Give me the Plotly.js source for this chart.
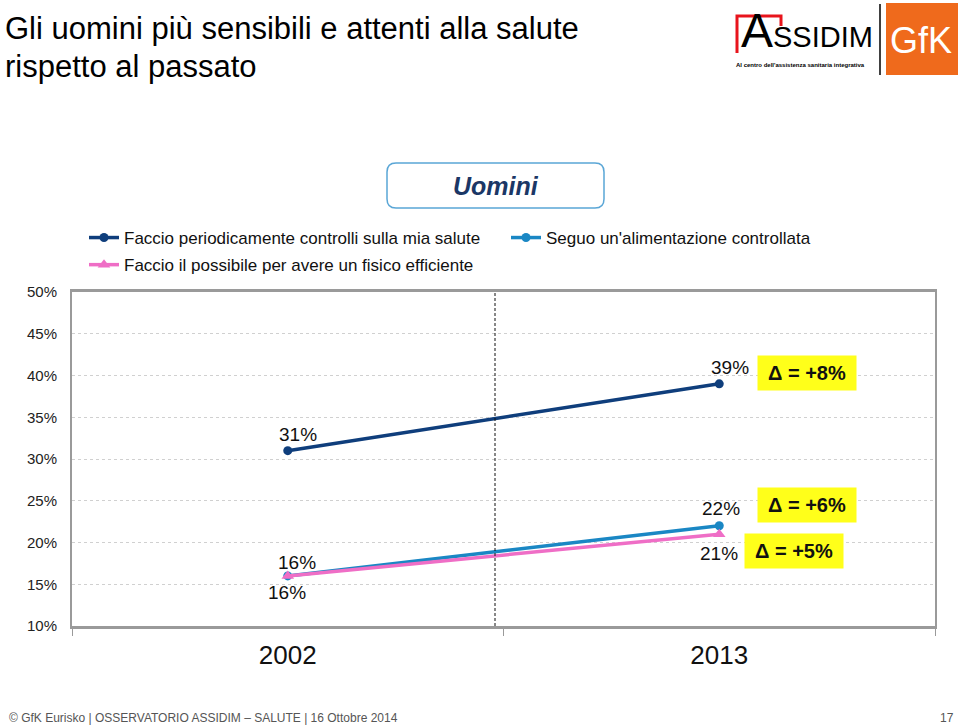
<!DOCTYPE html>
<html>
<head>
<meta charset="utf-8">
<script src="https://cdn.plot.ly/plotly-3.0.1.min.js"></script>
<style>
html,body{margin:0;padding:0;background:#fff;}
#chart{width:960px;height:728px;}
</style>
</head>
<body>
<div id="chart"></div>
<script>
// ---- data ----
const years = ['2002', '2013'];
const controlli = [31, 39];
const alimentazione = [16, 22];
const fisico = [16, 21];
const seriesNames = [
  'Faccio periodicamente controlli sulla mia salute',
  "Seguo un'alimentazione controllata",
  'Faccio il possibile per avere un fisico efficiente'
];
const deltaLabels = ['\u0394 = +8%', '\u0394 = +6%', '\u0394 = +5%'];
const yTicks = [10, 15, 20, 25, 30, 35, 40, 45, 50];
const titleLines = ['Gli uomini più sensibili e attenti alla salute', 'rispetto al passato'];
const panelLabel = 'Uomini';
const footer = '\u00A9 GfK Eurisko | OSSERVATORIO ASSIDIM \u2013 SALUTE | 16 Ottobre 2014';
const pageNo = '17';

// ---- layout helpers (pixel -> paper) ----
const W = 960, H = 728;
const M = {l: 72, r: 25, t: 292, b: 102};
const PW = W - M.l - M.r, PH = H - M.t - M.b;
const px = v => (v - M.l) / PW;
const py = v => (H - M.b - v) / PH;

const FONT = 'Liberation Sans, Arial, sans-serif';
const NAVY = '#0f3e7c', BLUE = '#1a87c4', PINK = '#ef6ec6';

const traces = [
  {x: years, y: controlli, name: seriesNames[0], type: 'scatter', mode: 'lines+markers',
   line: {color: NAVY, width: 3.5}, marker: {color: NAVY, size: 9, symbol: 'circle'},
   legend: 'legend', legendgroup: 'a', hoverinfo: 'skip'},
  {x: years, y: alimentazione, name: seriesNames[1], type: 'scatter', mode: 'lines+markers',
   line: {color: BLUE, width: 3.5}, marker: {color: BLUE, size: 9, symbol: 'circle'},
   legend: 'legend2', legendgroup: 'b', hoverinfo: 'skip'},
  {x: years, y: fisico, name: seriesNames[2], type: 'scatter', mode: 'lines+markers',
   line: {color: PINK, width: 3.5}, marker: {color: PINK, size: 11, symbol: 'triangle-up'},
   legend: 'legend', legendgroup: 'c', hoverinfo: 'skip'}
];

const lblFont = {family: FONT, size: 19, color: '#111'};
const annotations = [];
// value labels (x given as category index)
function valLabel(xi, yv, dx, dy) {
  annotations.push({x: xi, y: yv, xref: 'x', yref: 'y', text: yv + '%', showarrow: false,
    xshift: dx, yshift: dy, font: lblFont});
}
valLabel(0, controlli[0], 10, 16);
valLabel(1, controlli[1], 11, 16);
valLabel(1, alimentazione[1], 2, 17);
valLabel(0, alimentazione[0], 9, 13);
valLabel(0, fisico[0], -1, -17);
valLabel(1, fisico[1], 0, -19);
// delta boxes
function deltaBox(txt, yv, dx, dy) {
  annotations.push({x: 1, y: yv, xref: 'x', yref: 'y', text: '<b>' + txt + '</b>', showarrow: false,
    xshift: dx, yshift: dy, bgcolor: '#ffff1a', width: 94, height: 30, borderpad: 2,
    font: {family: FONT, size: 20, color: '#111'}});
}
deltaBox(deltaLabels[0], controlli[1], 88, 11);
deltaBox(deltaLabels[1], alimentazione[1], 88, 21);
deltaBox(deltaLabels[2], fisico[1], 75, -17);

// title
annotations.push({xref: 'paper', yref: 'paper', x: px(3), y: py(28), xanchor: 'left', yanchor: 'middle',
  text: titleLines[0], showarrow: false, font: {family: FONT, size: 31, color: '#000'}});
annotations.push({xref: 'paper', yref: 'paper', x: px(3), y: py(66), xanchor: 'left', yanchor: 'middle',
  text: titleLines[1], showarrow: false, font: {family: FONT, size: 31, color: '#000'}});
// panel label
annotations.push({xref: 'paper', yref: 'paper', x: px(496), y: py(186), xanchor: 'center', yanchor: 'middle',
  text: '<b><i>' + panelLabel + '</i></b>', showarrow: false, font: {family: FONT, size: 25, color: '#1b3766'}});
// footer
annotations.push({xref: 'paper', yref: 'paper', x: px(7), y: py(718), xanchor: 'left', yanchor: 'middle',
  text: footer, showarrow: false, font: {family: FONT, size: 12, color: '#555'}});
annotations.push({xref: 'paper', yref: 'paper', x: px(956), y: py(718), xanchor: 'right', yanchor: 'middle',
  text: pageNo, showarrow: false, font: {family: FONT, size: 12, color: '#555'}});
// logos (text parts)
annotations.push({xref: 'paper', yref: 'paper', x: px(740), y: py(58), xanchor: 'left', yanchor: 'bottom',
  text: '<span style="font-size:48px">A</span><span style="font-size:29px">SSIDIM</span>', showarrow: false,
  font: {family: FONT, size: 29, color: '#000'}, borderpad: 0});
annotations.push({xref: 'paper', yref: 'paper', x: px(735), y: py(61), xanchor: 'left', yanchor: 'top',
  text: "<b>Al centro dell'assistenza sanitaria integrativa</b>", showarrow: false,
  font: {family: FONT, size: 6, color: '#000'}, borderpad: 0});
annotations.push({xref: 'paper', yref: 'paper', x: px(921), y: py(40), xanchor: 'center', yanchor: 'middle',
  text: 'GfK', showarrow: false, font: {family: FONT, size: 36, color: '#fff'}});

const boxL = 387, boxR = 604, boxT = 163, boxB = 208, rr = 9;
const roundPath = `M ${px(boxL + rr)} ${py(boxT)} L ${px(boxR - rr)} ${py(boxT)} Q ${px(boxR)} ${py(boxT)} ${px(boxR)} ${py(boxT + rr)} ` +
  `L ${px(boxR)} ${py(boxB - rr)} Q ${px(boxR)} ${py(boxB)} ${px(boxR - rr)} ${py(boxB)} L ${px(boxL + rr)} ${py(boxB)} ` +
  `Q ${px(boxL)} ${py(boxB)} ${px(boxL)} ${py(boxB - rr)} L ${px(boxL)} ${py(boxT + rr)} Q ${px(boxL)} ${py(boxT)} ${px(boxL + rr)} ${py(boxT)} Z`;

const shapes = [
  // dashed divider
  {type: 'line', xref: 'paper', yref: 'paper', x0: px(495), x1: px(495), y0: 0, y1: 1,
   line: {color: '#111', width: 1, dash: '3px,2px'}},
  // panel label box
  {type: 'path', xref: 'paper', yref: 'paper', path: roundPath, line: {color: '#5aa6d6', width: 1.5}, fillcolor: '#fff'},
  // ASSIDIM red bracket
  {type: 'path', xref: 'paper', yref: 'paper',
   path: `M ${px(737)} ${py(53)} L ${px(737)} ${py(16)} L ${px(781)} ${py(16)} L ${px(781)} ${py(26)}`,
   line: {color: '#e8141c', width: 3}},
  // separator
  {type: 'line', xref: 'paper', yref: 'paper', x0: px(880), x1: px(880), y0: py(4), y1: py(75),
   line: {color: '#000', width: 1.5}},
  // GfK box
  {type: 'rect', xref: 'paper', yref: 'paper', x0: px(886), x1: px(958), y0: py(3), y1: py(75),
   line: {width: 0}, fillcolor: '#ef6a1c'}
];

const layout = {
  width: W, height: H,
  margin: M,
  paper_bgcolor: '#fff', plot_bgcolor: '#fff',
  font: {family: FONT, color: '#222'},
  showlegend: true,
  xaxis: {
    type: 'category', range: [-0.5, 1.5], fixedrange: true,
    showgrid: false, zeroline: false,
    showline: true, linecolor: '#9a9a9a', linewidth: 3, mirror: true,
    ticks: 'outside', tickson: 'boundaries', ticklen: 7, tickcolor: '#9a9a9a', tickwidth: 1,
    tickfont: {family: FONT, size: 26, color: '#111'}, ticklabelstandoff: 4
  },
  yaxis: {
    range: [10, 50], tickvals: yTicks, ticktext: yTicks.map(v => v + '%'), fixedrange: true,
    showgrid: true, gridcolor: '#d0d0d0', griddash: 'dot', gridwidth: 1,
    zeroline: false, showline: true, linecolor: '#9a9a9a', linewidth: 2, mirror: true,
    ticks: '', ticklabelstandoff: 10,
    tickfont: {family: FONT, size: 15, color: '#222'}
  },
  legend: {
    orientation: 'v', x: px(84), y: py(220), xanchor: 'left', yanchor: 'top',
    xref: 'paper', yref: 'paper',
    font: {family: FONT, size: 17, color: '#111'}, bgcolor: 'rgba(0,0,0,0)',
    itemwidth: 30, tracegroupgap: 2
  },
  legend2: {
    orientation: 'v', x: px(506), y: py(220), xanchor: 'left', yanchor: 'top',
    xref: 'paper', yref: 'paper',
    font: {family: FONT, size: 17, color: '#111'}, bgcolor: 'rgba(0,0,0,0)',
    itemwidth: 30
  },
  shapes: shapes,
  annotations: annotations
};

Plotly.newPlot('chart', traces, layout, {displayModeBar: false, staticPlot: true});
</script>
</body>
</html>
